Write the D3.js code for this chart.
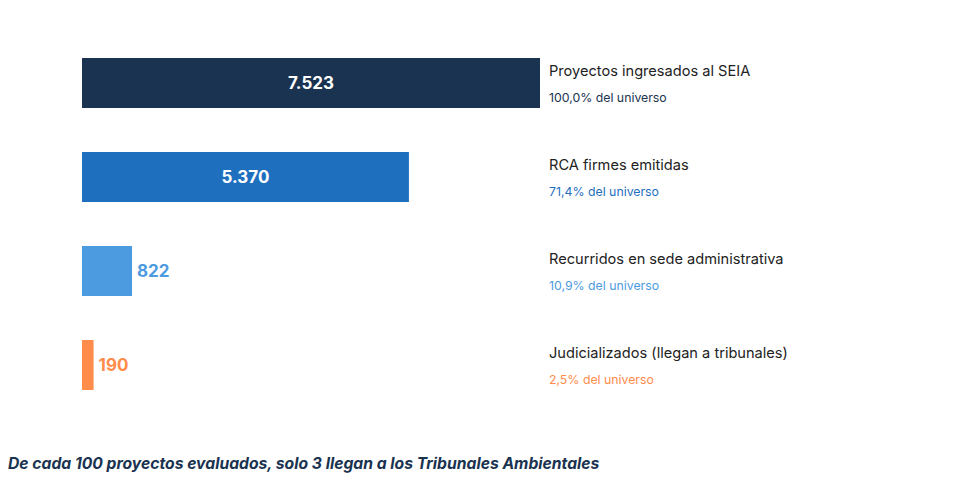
<!DOCTYPE html>
<html>
<head>
<meta charset="utf-8">
<script src="https://cdn.jsdelivr.net/npm/d3@7"></script>
<style>
  body { margin: 0; background: #fff; }
  svg text { font-family: Inter, "Noto Sans", sans-serif; }
</style>
</head>
<body>
<div id="chart"></div>
<script>
const categories = ["Proyectos ingresados al SEIA", "RCA firmes emitidas", "Recurridos en sede administrativa", "Judicializados (llegan a tribunales)"];
const values = [7523, 5370, 822, 190];
const percents = ["100,0%", "71,4%", "10,9%", "2,5%"];
const colors = ["#1a3350", "#1f6fbf", "#4c9be0", "#ff8c4b"];
const footnote = "De cada 100 proyectos evaluados, solo 3 llegan a los Tribunales Ambientales";

const width = 962, height = 483;
const fmt = d3.formatLocale({ decimal: ",", thousands: ".", grouping: [3], currency: ["", ""] }).format(",d");

const svg = d3.select("#chart").append("svg")
  .attr("width", width)
  .attr("height", height);

const x = d3.scaleLinear().domain([0, 7523]).range([82, 540]);
const y = d3.scaleBand().domain(categories).range([58, 390]).paddingInner(0.468).paddingOuter(0);

const rows = svg.selectAll("g.row")
  .data(categories)
  .enter().append("g")
  .attr("class", "row");

rows.append("rect")
  .attr("x", x(0))
  .attr("y", d => y(d))
  .attr("width", (d, i) => x(values[i]) - x(0))
  .attr("height", y.bandwidth())
  .attr("fill", (d, i) => colors[i]);

// value labels: inside for wide bars, outside for the small ones
rows.append("text")
  .attr("x", (d, i) => values[i] > 2000 ? (x(0) + x(values[i])) / 2 : x(values[i]) + 5)
  .attr("y", d => y(d) + y.bandwidth() / 2 + 6)
  .attr("text-anchor", (d, i) => values[i] > 2000 ? "middle" : "start")
  .attr("fill", (d, i) => values[i] > 2000 ? "#fff" : colors[i])
  .style("font-size", "17px")
  .style("font-weight", "700")
  .text((d, i) => fmt(values[i]));

rows.append("text")
  .attr("x", 549)
  .attr("y", d => y(d) + 18)
  .attr("fill", "#222")
  .style("font-size", "14.6px")
  .text(d => d);

rows.append("text")
  .attr("x", 549)
  .attr("y", d => y(d) + 44)
  .attr("fill", (d, i) => colors[i])
  .style("font-size", "12.3px")
  .text((d, i) => percents[i] + " del universo");

svg.append("text")
  .attr("x", 8)
  .attr("y", 469)
  .attr("fill", "#1a3350")
  .style("font-size", "15.7px")
  .style("font-weight", "700")
  .style("font-style", "italic")
  .text(footnote);
</script>
</body>
</html>
